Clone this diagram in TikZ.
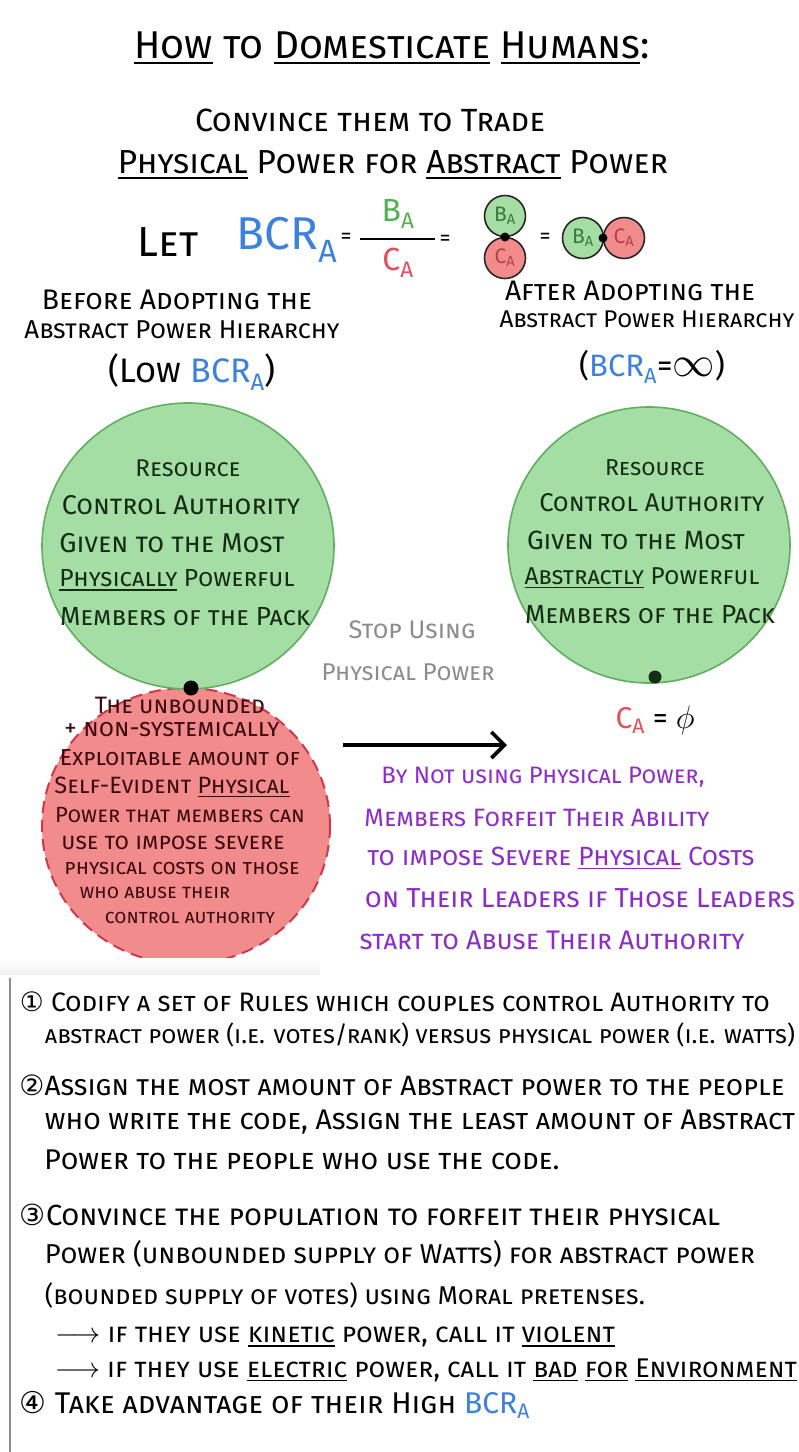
\documentclass[tikz,border=0pt]{standalone}
\usepackage{fontspec}
\usepackage{graphicx}
\setmainfont{Fira Sans}
\newfontfamily\djv{DejaVu Sans}
\usetikzlibrary{arrows.meta}
\definecolor{gfill}{RGB}{165,222,165}
\definecolor{gdraw}{RGB}{95,175,95}
\definecolor{rfill}{RGB}{242,140,140}
\definecolor{rdraw}{RGB}{210,55,75}
\definecolor{bcr}{RGB}{60,130,220}
\definecolor{gtext}{RGB}{85,175,85}
\definecolor{rtext}{RGB}{225,80,90}
\definecolor{purp}{RGB}{140,45,200}
\definecolor{gtxt}{RGB}{140,140,140}
\definecolor{dgreen}{RGB}{20,45,20}
\definecolor{dred}{RGB}{60,10,15}
\newcommand\fitw[2]{\resizebox{#1pt}{!}{#2}}
\newcommand\ul[1]{\setbox0\hbox{#1}\rlap{\rule[-0.16em]{\wd0}{0.06em}}\box0\relax}
\newcommand\sA{\textsubscript{A}}
\begin{document}
\begin{tikzpicture}[x=1pt,y=-1pt,
  txt/.style={inner sep=0pt,anchor=center},
  head/.style={txt,font=\fontsize{30}{34}\selectfont\scshape},
  body/.style={txt,font=\fontsize{24}{28}\selectfont\scshape},
  incirc/.style={txt,font=\fontsize{22}{26}\selectfont\scshape,text=dgreen},
  inred/.style={txt,font=\fontsize{20}{24}\selectfont\scshape,text=dred},
  pur/.style={txt,font=\fontsize{24}{28}\selectfont\scshape,text=purp},
  mini/.style={circle,draw=black!85,line width=1.6pt,minimum size=41pt,inner sep=0pt,font=\fontsize{21}{23}\selectfont\scshape},
  dot/.style={circle,fill=black,inner sep=0pt,minimum size=15pt}]
\useasboundingbox (0,0) rectangle (799,1452);
\fill[white] (0,0) rectangle (799,1452);

% title
\node[head] (title) at (392,48) {\fitw{515}{\ul{How} to \ul{Domesticate} \ul{Humans}:}};
\node[head] (sub1) at (370,120) {\fitw{350}{Convince them to Trade}};
\node[head] (sub2) at (393,165) {\fitw{550}{\ul{Physical} Power for \ul{Abstract} Power}};

% formula
\node[head,font=\fontsize{42}{46}\selectfont\scshape] (let) at (168,242) {Let};
\node[txt,font=\fontsize{46}{50}\selectfont,text=bcr] (bcr) at (287,240) {BCR\sA};
\node[txt,font=\fontsize{22}{24}\selectfont] (eq1) at (346,238) {=};
\node[txt,font=\fontsize{32}{34}\selectfont\scshape,text=gtext] (fb) at (398,214) {B\sA};
\node[txt,font=\fontsize{32}{34}\selectfont\scshape,text=rtext] (fc) at (398,263) {C\sA};
\coordinate (barL) at (360,239);
\coordinate (barR) at (435,239);
\draw[line width=1.8pt] (barL) -- (barR);
\node[txt,font=\fontsize{22}{24}\selectfont] (eq2) at (445,240) {=};
\node[mini,fill=gfill,text=gtext!70!black] (sb) at (505,216) {B\sA};
\node[mini,fill=rfill,text=rtext!80!black] (sc) at (505,258) {C\sA};
\node[circle,fill=black,inner sep=0pt,minimum size=9pt] (sd) at (505,237) {};
\node[txt,font=\fontsize{22}{24}\selectfont] (eq3) at (545,238) {=};
\node[mini,fill=gfill,text=gtext!70!black] (hb) at (583,238) {B\sA};
\node[mini,fill=rfill,text=rtext!80!black] (hc) at (624,238) {C\sA};
\node[circle,fill=black,inner sep=0pt,minimum size=9pt] (hd) at (603,238) {};

% before / after headings
\node[body] (bf1) at (177,300) {\fitw{270}{Before Adopting the}};
\node[body] (bf2) at (182,330) {\fitw{315}{Abstract Power Hierarchy}};
\node[txt,font=\fontsize{34}{38}\selectfont\scshape] (bf3) at (192,372) {(Low {\color{bcr}\upshape BCR\sA})};
\node[body] (af1) at (630,291) {\fitw{250}{After Adopting the}};
\node[body] (af2) at (647,319) {\fitw{295}{Abstract Power Hierarchy}};
\node[txt,font=\fontsize{31}{35}\selectfont] (af3) at (652,367) {({\color{bcr}BCR\sA}=\raisebox{0.02em}{\scalebox{1.7}{$\infty$}})};

% circles
\path[fill=rfill,draw=rdraw,line width=2pt,dash pattern=on 12pt off 7pt] (186,826) ellipse (144pt and 138pt);
\path[fill=gfill,draw=gdraw,line width=1.6pt] (188,546) ellipse (146pt and 143pt);
\path[fill=gfill,draw=gdraw,line width=1.6pt] (649,545) ellipse (141pt and 138pt);
\node[dot] (dL) at (191,688) {};
\node[dot,fill=dgreen,minimum size=13pt] (dR) at (655,677) {};

% left green text
\node[incirc] (lg1) at (188,468) {\fitw{105}{Resource}};
\node[incirc] (lg2) at (181,505) {\fitw{238}{Control Authority}};
\node[incirc] (lg3) at (172,543) {\fitw{225}{Given to the Most}};
\node[incirc] (lg4) at (177,580) {\fitw{235}{\ul{Physically} Powerful}};
\node[incirc] (lg5) at (185,617) {\fitw{250}{Members of the Pack}};
% right green text
\node[incirc] (rg1) at (655,468) {\fitw{100}{Resource}};
\node[incirc] (rg2) at (652,503) {\fitw{225}{Control Authority}};
\node[incirc] (rg3) at (636,540) {\fitw{218}{Given to the Most}};
\node[incirc] (rg4) at (642,578) {\fitw{235}{\ul{Abstractly} Powerful}};
\node[incirc] (rg5) at (650,615) {\fitw{250}{Members of the Pack}};

% C_A = phi
\node[txt,font=\fontsize{30}{34}\selectfont\scshape] (cphi) at (655,720) {{\color{rtext}C\sA} = \scalebox{1.3}{$\phi$}};

% arrow
\node[txt,font=\fontsize{22}{26}\selectfont\scshape,text=gtxt] (st1) at (412,630) {\fitw{127}{Stop Using}};
\node[txt,font=\fontsize{22}{26}\selectfont\scshape,text=gtxt] (st2) at (408,672) {\fitw{173}{Physical Power}};
\coordinate (aS) at (343,745);
\coordinate (aE) at (507,745);
\draw[line width=3.6pt,-{Straight Barb[length=13pt,width=26pt,line width=3.6pt]}] (aS) -- (aE);

% red circle text
\node[inred] (r1) at (180,705) {\fitw{170}{The unbounded}};
\node[inred] (r2) at (172,730) {\fitw{215}{+ non-systemically}};
\node[inred] (r3) at (180,758) {\fitw{240}{Exploitable amount of}};
\node[inred] (r4) at (172,787) {\fitw{235}{Self-Evident \ul{Physical}}};
\node[inred] (r5) at (180,815) {\fitw{250}{Power that members can}};
\node[inred] (r6) at (173,843) {\fitw{223}{use to impose severe}};
\node[inred] (r7) at (182,868) {\fitw{235}{physical costs on those}};
\node[inred] (r8) at (155,893) {\fitw{150}{who abuse their}};
\node[inred] (r9) at (190,918) {\fitw{170}{control authority}};

% purple text
\node[pur] (p1) at (543,777) {\fitw{323}{By Not using Physical Power,}};
\node[pur] (p2) at (537,818) {\fitw{345}{Members Forfeit Their Ability}};
\node[pur] (p3) at (561,858) {\fitw{387}{to impose Severe \ul{Physical} Costs}};
\node[pur] (p4) at (580,898) {\fitw{430}{on Their Leaders if Those Leaders}};
\node[pur] (p5) at (552,940) {\fitw{385}{start to Abuse Their Authority}};

% bottom panel
\shade[top color=white,bottom color=black!6] (0,958) rectangle (320,975);
\fill[white] (0,975) rectangle (799,1452);
\coordinate (bT) at (10,978);
\coordinate (bB) at (10,1452);
\draw[black!45,line width=1.2pt] (bT) -- (bB);

\node[body] (b1a) at (395,1002) {\fitw{750}{{\djv ①} Codify a set of Rules which couples control Authority to}};
\node[body] (b1b) at (420,1035) {\fitw{750}{abstract power (i.e. votes/rank) versus physical power (i.e. watts)}};
\node[body] (b2a) at (402,1085) {\fitw{765}{{\djv ②}Assign the most amount of Abstract power to the people}};
\node[body] (b2b) at (420,1122) {\fitw{750}{who write the code, Assign the least amount of Abstract}};
\node[body] (b2c) at (302,1160) {\fitw{515}{Power to the people who use the code.}};
\node[body] (b3a) at (370,1215) {\fitw{700}{{\djv ③}Convince the population to forfeit their physical}};
\node[body] (b3b) at (400,1254) {\fitw{710}{Power (unbounded supply of Watts) for abstract power}};
\node[body] (b3c) at (345,1295) {\fitw{600}{(bounded supply of votes) using Moral pretenses.}};
\node[body] (b3d) at (335,1337) {\fitw{560}{$\longrightarrow$ if they use \ul{kinetic} power, call it \ul{violent}}};
\node[body] (b3e) at (426,1370) {\fitw{742}{$\longrightarrow$ if they use \ul{electric} power, call it \ul{bad} \ul{for} \ul{Environment}}};
\node[body] (b4) at (275,1405) {\fitw{510}{{\djv ④} Take advantage of their High {\upshape\color{bcr}BCR\sA}}};
\end{tikzpicture}
\end{document}
